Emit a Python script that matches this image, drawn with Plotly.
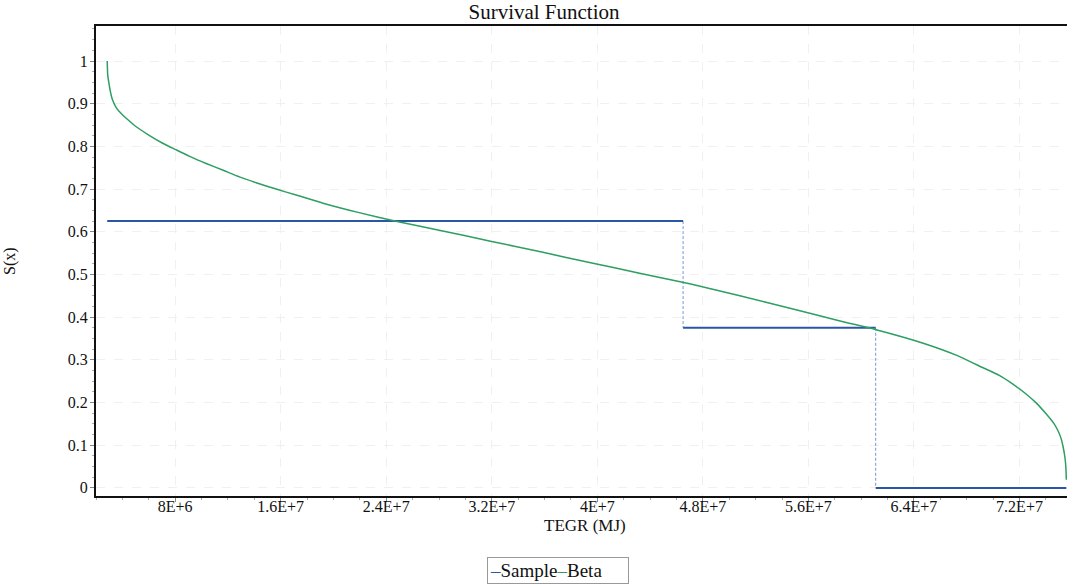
import plotly.graph_objects as go

# ---- data ----
beta_x = [2.85e6, 2.89e6, 2.98e6, 3.08e6, 3.23e6, 3.53e6, 3.91e6, 4.29e6, 5.05e6,
          6.03e6, 7.02e6, 8.0e6, 9.14e6, 10.35e6, 11.64e6, 12.92e6, 14.14e6,
          15.65e6, 17.17e6, 19.21e6, 21.79e6, 24.82e6, 28.1e6, 31.9e6, 35.7e6,
          39.4e6, 43.2e6, 47.0e6, 50.8e6, 54.6e6, 58.4e6, 61.2e6, 64.7e6, 67.2e6,
          69.2e6, 70.5e6, 71.5e6, 72.5e6, 73.3e6, 74.0e6, 74.6e6, 74.9e6, 75.15e6,
          75.3e6, 75.45e6, 75.52e6, 75.55e6]
beta_y = [1.0, 0.967, 0.948, 0.930, 0.911, 0.891, 0.877, 0.866, 0.846,
          0.826, 0.808, 0.793, 0.776, 0.760, 0.744, 0.728, 0.715,
          0.700, 0.686, 0.667, 0.646, 0.624, 0.603, 0.578, 0.553,
          0.528, 0.503, 0.478, 0.450, 0.421, 0.391, 0.370, 0.339, 0.311,
          0.282, 0.263, 0.243, 0.220, 0.198, 0.174, 0.151, 0.135, 0.116,
          0.097, 0.070, 0.045, 0.019]

sample_x = [2.85e6, 46.5e6, 61.1e6, 75.55e6]   # step break points
sample_y = [0.625, 0.375, 0.0]                 # level on each step

x_tickvals = [8e6, 1.6e7, 2.4e7, 3.2e7, 4e7, 4.8e7, 5.6e7, 6.4e7, 7.2e7]
x_ticktext = ["8E+6", "1.6E+7", "2.4E+7", "3.2E+7", "4E+7", "4.8E+7", "5.6E+7", "6.4E+7", "7.2E+7"]
y_tickvals = [0, 0.1, 0.2, 0.3, 0.4, 0.5, 0.6, 0.7, 0.8, 0.9, 1]
y_ticktext = ["0", "0.1", "0.2", "0.3", "0.4", "0.5", "0.6", "0.7", "0.8", "0.9", "1"]

SAMPLE_C = "#2b55a5"
BETA_C = "#2e9e62"
FONT = "Liberation Serif"

# horizontal parts of the step
hx, hy = [], []
for i, lvl in enumerate(sample_y):
    hx += [sample_x[i], sample_x[i + 1], None]
    hy += [lvl, lvl, None]
# vertical (dashed) connectors
vx, vy = [], []
for i in range(1, len(sample_y)):
    vx += [sample_x[i], sample_x[i], None]
    vy += [sample_y[i - 1], sample_y[i], None]

fig = go.Figure()
fig.add_trace(go.Scatter(x=vx, y=vy, mode="lines", showlegend=False,
                         line=dict(color="#7397d6", width=1, dash="3px,2px")))
fig.add_trace(go.Scatter(x=hx, y=hy, mode="lines", name="Sample", showlegend=False,
                         line=dict(color=SAMPLE_C, width=2)))
fig.add_trace(go.Scatter(x=beta_x, y=beta_y, mode="lines", name="Beta", showlegend=False,
                         line=dict(color=BETA_C, width=1.5, shape="spline", smoothing=0.6)))

W, H = 1067, 584
L, R, T, B = 96, 0, 26, 88
pw, ph = W - L - R, H - T - B

def px(x):
    return (x - L) / pw

def py(y):
    return (H - B - y) / ph

fig.update_layout(
    width=W, height=H,
    margin=dict(l=L, r=R, t=T, b=B),
    paper_bgcolor="white", plot_bgcolor="white",
    font=dict(family=FONT, size=16, color="#111"),
    title=dict(text="Survival Function", xref="paper", x=px(544), xanchor="center",
               yref="container", y=1 - 12 / H, yanchor="middle",
               font=dict(family=FONT, size=21, color="#111")),
    showlegend=False,
    xaxis=dict(range=[2.0e6, 75.6e6], tickvals=x_tickvals, ticktext=x_ticktext,
               showline=True, linecolor="#111", linewidth=2, mirror=True,
               ticks="outside", ticklen=4, tickcolor="#888", ticklabelstandoff=-9,
               showgrid=True, gridcolor="#f0f0f0", griddash="dash", gridwidth=1,
               zeroline=False,
               minor=dict(tick0=0, dtick=2e6, ticks="outside", ticklen=2, tickcolor="#aaa", showgrid=False),
               tickfont=dict(family=FONT, size=16, color="#111")),
    yaxis=dict(range=[-0.019, 1.082], tickvals=y_tickvals, ticktext=y_ticktext,
               showline=True, linecolor="#111", linewidth=2, mirror=False,
               ticks="outside", ticklen=4, tickcolor="#888", ticklabelstandoff=-1,
               showgrid=True, gridcolor="#f0f0f0", griddash="dash", gridwidth=1,
               zeroline=False,
               minor=dict(tick0=0, dtick=0.025, ticks="outside", ticklen=2, tickcolor="#aaa", showgrid=False),
               tickfont=dict(family=FONT, size=16, color="#111")),
)

fig.add_annotation(text="TEGR (MJ)", xref="paper", yref="paper", x=px(585), y=py(525),
                   xanchor="center", yanchor="middle", showarrow=False,
                   font=dict(family=FONT, size=17, color="#111"))
fig.add_annotation(text="S(x)", xref="paper", yref="paper", x=px(10), y=0.5,
                   xanchor="center", yanchor="middle", showarrow=False, textangle=-90,
                   font=dict(family=FONT, size=16, color="#111"))
fig.add_annotation(
    text=f'<span style="color:{SAMPLE_C}">–</span>Sample<span style="color:{BETA_C}">–</span>Beta',
    xref="paper", yref="paper", x=px(558), y=py(570), xanchor="center", yanchor="middle",
    showarrow=False, bordercolor="#999", borderwidth=1, borderpad=2, bgcolor="white",
    width=136, align="left", font=dict(family=FONT, size=19, color="#111"))

fig.write_html("out.html")
